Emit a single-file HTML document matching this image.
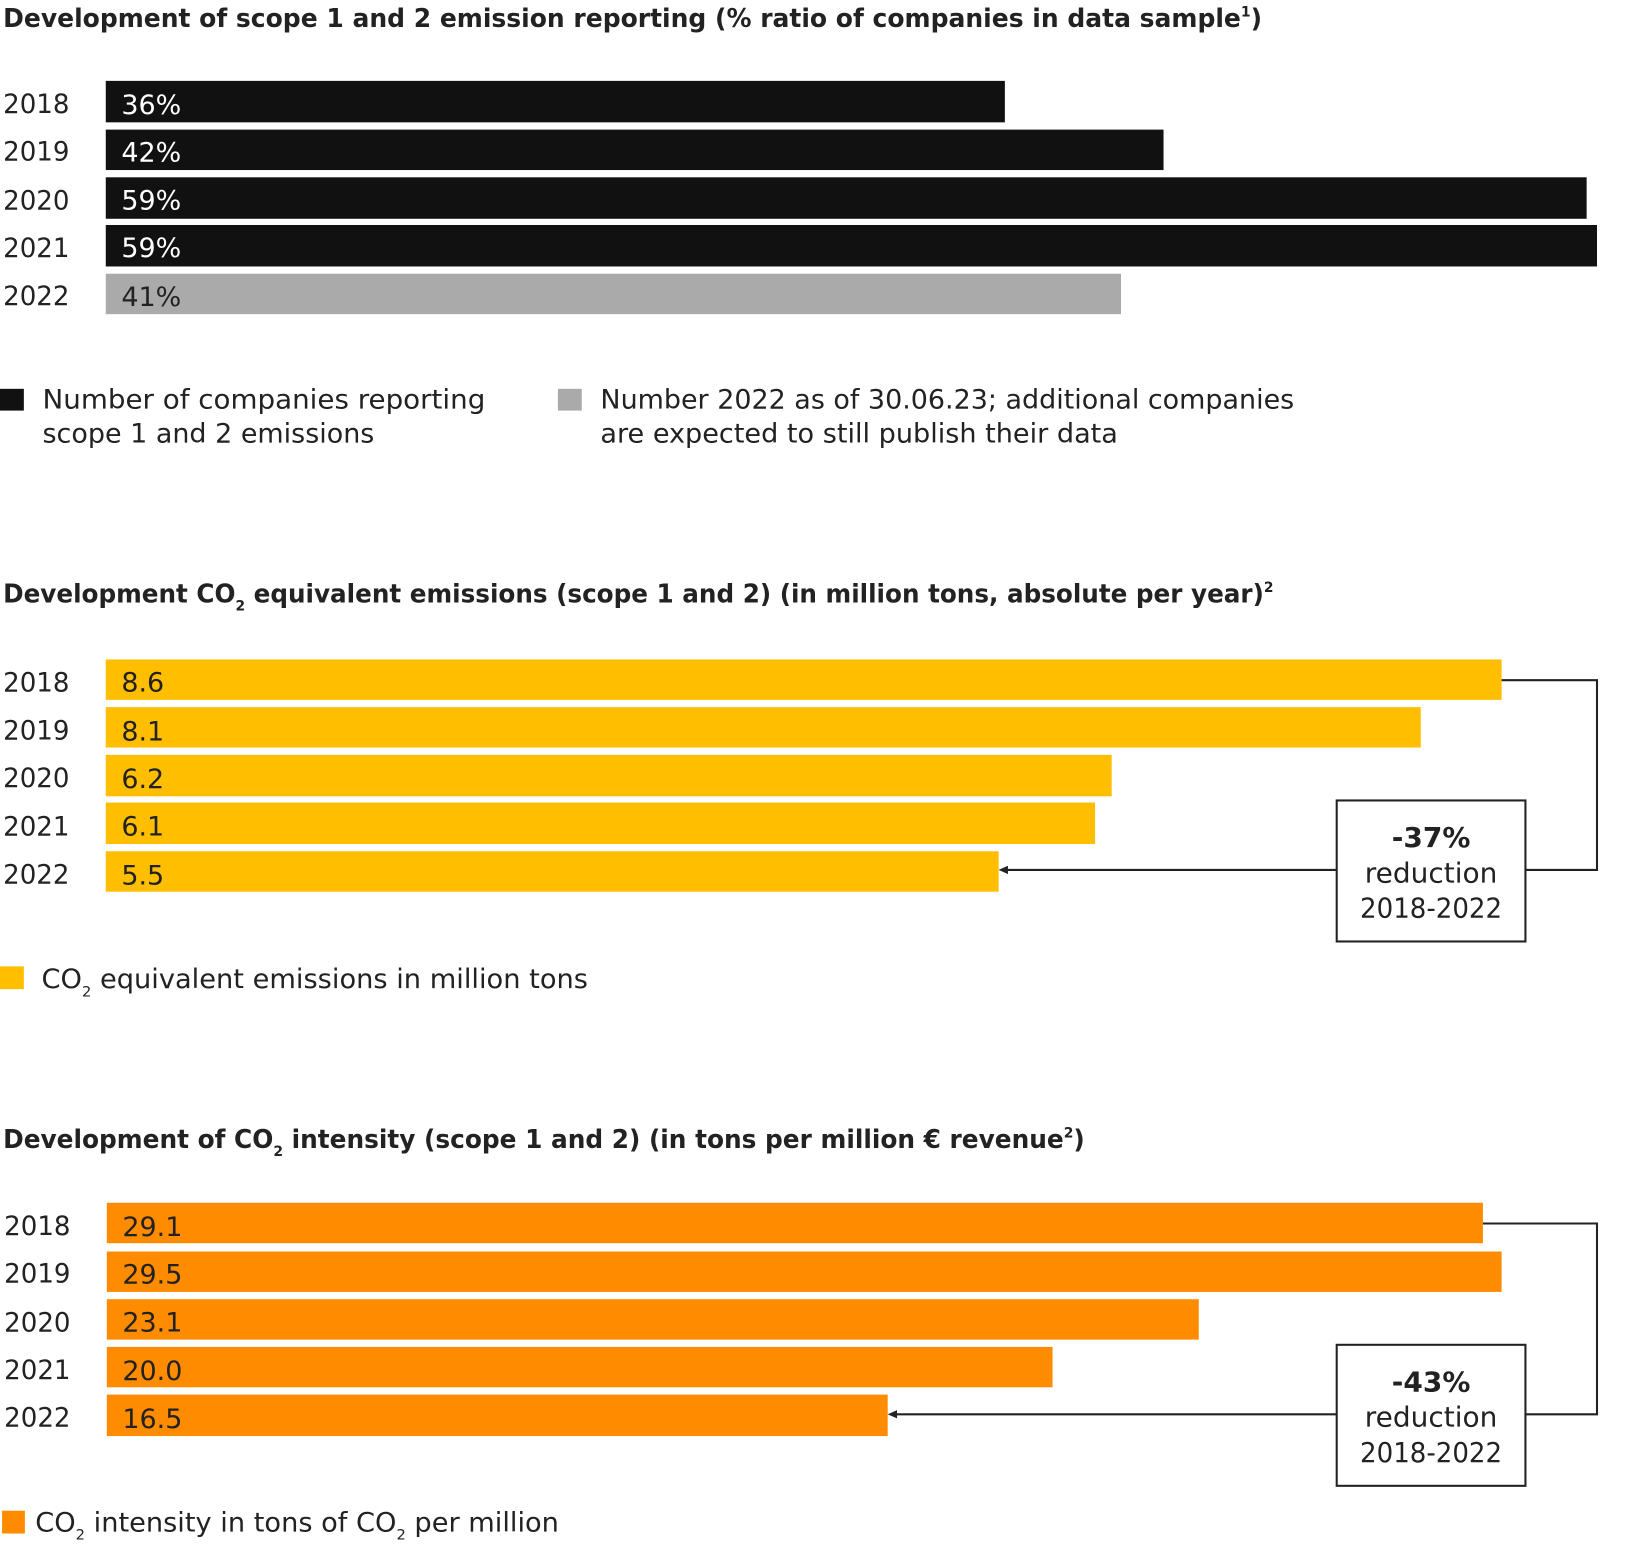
<!DOCTYPE html>
<html><head><meta charset="utf-8"><style>
html,body{margin:0;padding:0;background:#fff;width:1625px;height:1547px;overflow:hidden}
svg{display:block}
text{font-family:"DejaVu Sans","Liberation Sans",sans-serif;fill:#222}
.t{font-weight:bold;font-size:25px}
.y{font-size:26px}
.v{font-size:26px}
.l{font-size:26px}
</style></head><body>
<svg width="1625" height="1547" viewBox="0 0 1567 1492" preserveAspectRatio="none" xmlns="http://www.w3.org/2000/svg">
<text class="t" x="3" y="26" textLength="1214" lengthAdjust="spacingAndGlyphs">Development of scope 1 and 2 emission reporting (% ratio of companies in data sample<tspan font-size="14" dy="-10">1</tspan><tspan dy="10">)</tspan></text>
<g class="y">
<text x="3" y="109" class="y" textLength="64" lengthAdjust="spacingAndGlyphs">2018</text>
<text x="3" y="155" class="y" textLength="64" lengthAdjust="spacingAndGlyphs">2019</text>
<text x="3" y="202" class="y" textLength="64" lengthAdjust="spacingAndGlyphs">2020</text>
<text x="3" y="248" class="y" textLength="64" lengthAdjust="spacingAndGlyphs">2021</text>
<text x="3" y="294" class="y" textLength="64" lengthAdjust="spacingAndGlyphs">2022</text>
</g>
<rect x="102" y="78" width="867" height="40" fill="#111"/>
<rect x="102" y="125" width="1020" height="39" fill="#111"/>
<rect x="102" y="171" width="1428" height="40" fill="#111"/>
<rect x="102" y="217" width="1438" height="40" fill="#111"/>
<rect x="102" y="264" width="979" height="39" fill="#aaa"/>
<text class="v" x="117" y="110" style="fill:#fff">36%</text>
<text class="v" x="117" y="156" style="fill:#fff">42%</text>
<text class="v" x="117" y="202" style="fill:#fff">59%</text>
<text class="v" x="117" y="248" style="fill:#fff">59%</text>
<text class="v" x="117" y="295">41%</text>
<rect x="0" y="375" width="23" height="21" fill="#111"/>
<text class="l" x="41" y="394" textLength="427" lengthAdjust="spacingAndGlyphs">Number of companies reporting</text>
<text class="l" x="41" y="427" textLength="320" lengthAdjust="spacingAndGlyphs">scope 1 and 2 emissions</text>
<rect x="538" y="375" width="23" height="21" fill="#aaa"/>
<text class="l" x="579" y="394" textLength="669" lengthAdjust="spacingAndGlyphs">Number 2022 as of 30.06.23; additional companies</text>
<text class="l" x="579" y="427" textLength="499" lengthAdjust="spacingAndGlyphs">are expected to still publish their data</text>

<text class="t" x="3" y="581" textLength="1225" lengthAdjust="spacingAndGlyphs">Development CO<tspan font-size="14" dy="8">2</tspan><tspan dy="-8"> equivalent emissions (scope 1 and 2) (in million tons, absolute per year)</tspan><tspan font-size="14" dy="-10">2</tspan></text>
<text x="3" y="667" class="y" textLength="64" lengthAdjust="spacingAndGlyphs">2018</text>
<text x="3" y="713" class="y" textLength="64" lengthAdjust="spacingAndGlyphs">2019</text>
<text x="3" y="759" class="y" textLength="64" lengthAdjust="spacingAndGlyphs">2020</text>
<text x="3" y="806" class="y" textLength="64" lengthAdjust="spacingAndGlyphs">2021</text>
<text x="3" y="852" class="y" textLength="64" lengthAdjust="spacingAndGlyphs">2022</text>
<g fill="#FFBE00">
<rect x="102" y="636" width="1346" height="39"/>
<rect x="102" y="682" width="1268" height="39"/>
<rect x="102" y="728" width="970" height="40"/>
<rect x="102" y="774" width="954" height="40"/>
<rect x="102" y="821" width="861" height="39"/>
</g>
<text class="v" x="117" y="667">8.6</text>
<text class="v" x="117" y="714">8.1</text>
<text class="v" x="117" y="760">6.2</text>
<text class="v" x="117" y="806">6.1</text>
<text class="v" x="117" y="853">5.5</text>
<polyline points="1448,656 1540,656 1540,839 1471,839" fill="none" stroke="#222" stroke-width="2"/>
<line x1="1289" y1="839" x2="970" y2="839" stroke="#222" stroke-width="2"/>
<polygon points="963,839 972,835 972,843" fill="#222"/>
<rect x="1289" y="772" width="182" height="136" fill="#fff" stroke="#222" stroke-width="2"/>
<text x="1380" y="817" text-anchor="middle" style="font-weight:bold;font-size:27px">-37%</text>
<text x="1380" y="851" text-anchor="middle" style="font-size:27px">reduction</text>
<text x="1380" y="885" text-anchor="middle" style="font-size:27px" textLength="137" lengthAdjust="spacingAndGlyphs">2018-2022</text>
<rect x="0" y="932" width="23" height="22" fill="#FFBE00"/>
<text class="l" x="40" y="953" textLength="527" lengthAdjust="spacingAndGlyphs">CO<tspan font-size="14" dy="8">2</tspan><tspan dy="-8"> equivalent emissions in million tons</tspan></text>

<text class="t" x="3" y="1107" textLength="1043" lengthAdjust="spacingAndGlyphs">Development of CO<tspan font-size="14" dy="8">2</tspan><tspan dy="-8"> intensity (scope 1 and 2) (in tons per million € revenue</tspan><tspan font-size="14" dy="-10">2</tspan><tspan dy="10">)</tspan></text>
<text x="4" y="1191" class="y" textLength="64" lengthAdjust="spacingAndGlyphs">2018</text>
<text x="4" y="1237" class="y" textLength="64" lengthAdjust="spacingAndGlyphs">2019</text>
<text x="4" y="1284" class="y" textLength="64" lengthAdjust="spacingAndGlyphs">2020</text>
<text x="4" y="1330" class="y" textLength="64" lengthAdjust="spacingAndGlyphs">2021</text>
<text x="4" y="1376" class="y" textLength="64" lengthAdjust="spacingAndGlyphs">2022</text>
<g fill="#FF8C00">
<rect x="103" y="1160" width="1327" height="39"/>
<rect x="103" y="1207" width="1345" height="39"/>
<rect x="103" y="1253" width="1053" height="39"/>
<rect x="103" y="1299" width="912" height="39"/>
<rect x="103" y="1345" width="753" height="40"/>
</g>
<text class="v" x="118" y="1192">29.1</text>
<text class="v" x="118" y="1238">29.5</text>
<text class="v" x="118" y="1284">23.1</text>
<text class="v" x="118" y="1331">20.0</text>
<text class="v" x="118" y="1377">16.5</text>
<polyline points="1430,1180 1540,1180 1540,1364 1471,1364" fill="none" stroke="#222" stroke-width="2"/>
<line x1="1289" y1="1364" x2="863" y2="1364" stroke="#222" stroke-width="2"/>
<polygon points="856,1364 865,1360 865,1368" fill="#222"/>
<rect x="1289" y="1297" width="182" height="136" fill="#fff" stroke="#222" stroke-width="2"/>
<text x="1380" y="1342" text-anchor="middle" style="font-weight:bold;font-size:27px">-43%</text>
<text x="1380" y="1376" text-anchor="middle" style="font-size:27px">reduction</text>
<text x="1380" y="1410" text-anchor="middle" style="font-size:27px" textLength="137" lengthAdjust="spacingAndGlyphs">2018-2022</text>
<rect x="2" y="1457" width="22" height="22" fill="#FF8C00"/>
<text class="l" x="34" y="1477" textLength="505" lengthAdjust="spacingAndGlyphs">CO<tspan font-size="14" dy="8">2</tspan><tspan dy="-8"> intensity in tons of CO</tspan><tspan font-size="14" dy="8">2</tspan><tspan dy="-8"> per million</tspan></text>
</svg>
</body></html>
